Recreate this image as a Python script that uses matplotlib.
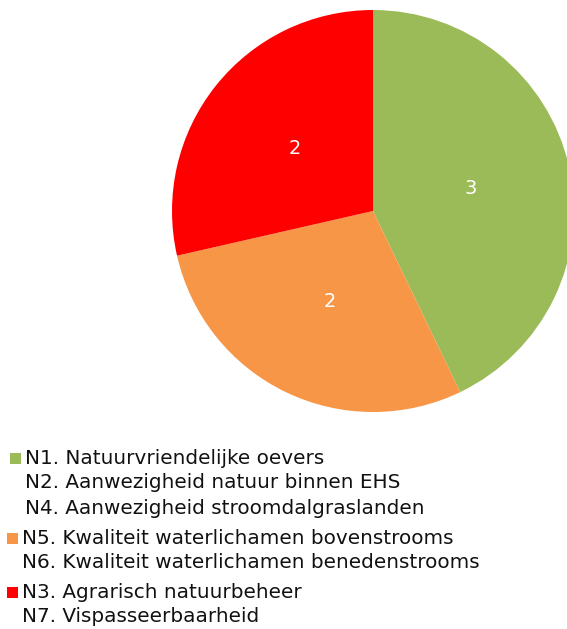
import matplotlib
matplotlib.use("Agg")
import matplotlib.pyplot as plt
from matplotlib.patches import Rectangle

categories = [
    "N1. Natuurvriendelijke oevers",
    "N2. Aanwezigheid natuur binnen EHS",
    "N4. Aanwezigheid stroomdalgraslanden",
    "N5. Kwaliteit waterlichamen bovenstrooms",
    "N6. Kwaliteit waterlichamen benedenstrooms",
    "N3. Agrarisch natuurbeheer",
    "N7. Vispasseerbaarheid",
]
values = [3, 0, 0, 2, 0, 2, 0]
colors = ["#9BBB59", "none", "none", "#F79646", "none", "#FF0000", "none"]

W, H = 567, 629
fig = plt.figure(figsize=(W / 100, H / 100), dpi=100)

cx, cy, r = 373, 211, 201
ax = fig.add_axes([(cx - r) / W, (H - cy - r) / H, 2 * r / W, 2 * r / H])

total = sum(values)

def fmt(p):
    v = round(p * total / 100)
    return f"{v}" if v > 0 else ""

wedges, texts, autotexts = ax.pie(
    values, colors=colors, startangle=90, counterclock=False,
    autopct=fmt, pctdistance=0.5, radius=1.0,
    wedgeprops=dict(linewidth=0),
    textprops=dict(color="white", fontsize=14, family="DejaVu Sans"),
)
for w in wedges:
    w.set_clip_on(False)
ax.set_xlim(-1, 1)
ax.set_ylim(-1, 1)
ax.axis("off")

# legend drawn manually
ys = [458, 483, 508, 538, 563, 592, 617]
for i, (lab, col) in enumerate(zip(categories, colors)):
    y = ys[i]
    x_text = 25 if i < 3 else 22
    if col != "none":
        sq = 11
        fig.patches.append(Rectangle(((x_text - 15) / W, (H - y - sq / 2) / H), sq / W, sq / H,
                                     transform=fig.transFigure, facecolor=col, edgecolor="none"))
    fig.text(x_text / W, (H - y) / H, lab, fontsize=14.4, family="DejaVu Sans",
             color="#111111", va="center", ha="left")

fig.savefig("out.png", dpi=100)
